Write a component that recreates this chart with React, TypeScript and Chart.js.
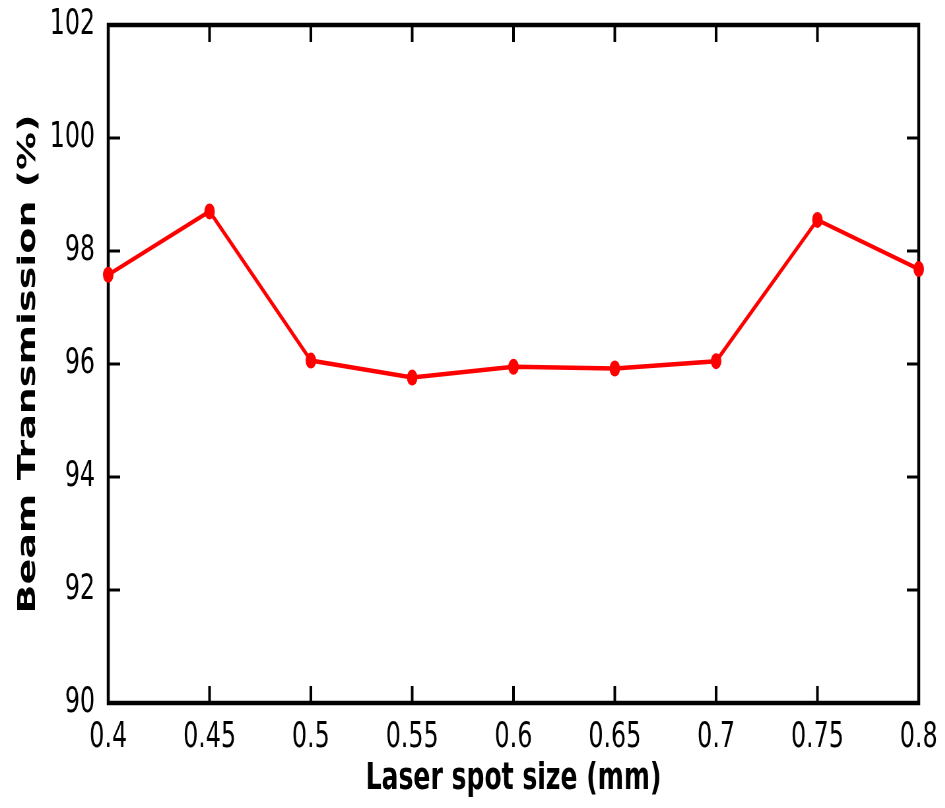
import { Chart, registerables } from 'chart.js';
import { useEffect, useRef } from 'react';

Chart.register(...registerables);

// Laser spot size (mm) and the measured beam transmission (%)
const spotSizes = ['0.4', '0.45', '0.5', '0.55', '0.6', '0.65', '0.7', '0.75', '0.8'];
const transmission = [97.58, 98.7, 96.06, 95.76, 95.95, 95.92, 96.05, 98.55, 97.68];
const yMin = 90;
const yMax = 102;
const yStep = 2;

// the reference is squeezed horizontally, so draw wide and scale the canvas down
const SQUEEZE = 0.66;
const W = Math.round(945 / SQUEEZE);
const H = 808;
const AREA_LEFT = 164;
const AREA_RIGHT = 1392;
const TOP_PAD = 25;
const AREA_BOTTOM = 703;

const frameTicks = {
    id: 'frameTicks',
    beforeDatasetsDraw(chart: any) {
        const { ctx, chartArea: { left, right, top, bottom }, scales } = chart;
        const line = (x1: number, y1: number, x2: number, y2: number) => {
            ctx.beginPath();
            ctx.moveTo(x1, y1);
            ctx.lineTo(x2, y2);
            ctx.stroke();
        };
        ctx.save();
        ctx.strokeStyle = '#000';
        ctx.lineWidth = 4;
        const x = scales.x;
        x.ticks.forEach((_t: any, i: number) => {
            if (i === 0 || i === x.ticks.length - 1) return;
            const px = x.getPixelForTick(i);
            line(px, bottom, px, bottom - 17);
            line(px, top, px, top + 17);
        });
        ctx.lineWidth = 3;
        const y = scales.y;
        y.ticks.forEach((_t: any, i: number) => {
            const py = y.getPixelForTick(i);
            line(left, py, left + 18, py);
            line(right, py, right - 18, py);
        });
        ctx.lineWidth = 4.5;
        ctx.strokeRect(left, top, right - left, bottom - top);
        ctx.restore();
    }
};

function TransmissionChart() {
    const canvasRef = useRef<HTMLCanvasElement>(null);
    const chartRef = useRef<Chart | null>(null);

    useEffect(() => {
        if (!canvasRef.current) return;
        const ctx = canvasRef.current.getContext('2d');
        if (!ctx) return;
        if (chartRef.current) chartRef.current.destroy();

        chartRef.current = new Chart(ctx, {
            type: 'line',
            data: {
                labels: spotSizes,
                datasets: [{
                    data: transmission,
                    borderColor: '#ff0000',
                    backgroundColor: '#ff0000',
                    borderWidth: 4.5,
                    pointRadius: 8,
                    pointHoverRadius: 8,
                    pointBorderWidth: 0,
                    tension: 0,
                    clip: false
                }]
            },
            options: {
                responsive: false,
                animation: false,
                layout: {
                    padding: { left: 0, top: TOP_PAD, right: W - AREA_RIGHT, bottom: 0 }
                },
                plugins: {
                    legend: { display: false },
                    tooltip: { enabled: false }
                },
                scales: {
                    x: {
                        type: 'category',
                        offset: false,
                        grid: { display: false, drawTicks: false },
                        border: { display: false },
                        ticks: {
                            color: '#000',
                            padding: 13,
                            maxRotation: 0,
                            autoSkip: false,
                            font: { family: 'DejaVu Sans', size: 36 }
                        },
                        title: {
                            display: true,
                            text: 'Laser spot size (mm)',
                            color: '#000',
                            padding: { top: 0, bottom: 6 },
                            font: { family: 'DejaVu Sans', size: 38, weight: 'bold' }
                        },
                        afterFit(scale: any) {
                            scale.height = H - AREA_BOTTOM;
                            scale.paddingLeft = 0;
                            scale.paddingRight = 0;
                        }
                    },
                    y: {
                        min: yMin,
                        max: yMax,
                        grid: { display: false, drawTicks: false },
                        border: { display: false },
                        ticks: {
                            stepSize: yStep,
                            color: '#000',
                            padding: 20,
                            font: { family: 'DejaVu Sans', size: 36 }
                        },
                        title: {
                            display: true,
                            text: 'Beam Transmission (%)',
                            color: '#000',
                            padding: { top: 20, bottom: 0 },
                            font: { family: 'DejaVu Sans', size: 38, weight: 'bold' }
                        },
                        afterFit(scale: any) {
                            scale.width = AREA_LEFT;
                            scale.paddingTop = 0;
                            scale.paddingBottom = 0;
                        }
                    }
                }
            },
            plugins: [frameTicks]
        });

        return () => {
            if (chartRef.current) {
                chartRef.current.destroy();
                chartRef.current = null;
            }
        };
    }, []);

    return <canvas ref={canvasRef} width={W} height={H} style={{ display: 'block' }} />;
}

export default function App() {
    return (
        <div style={{ position: 'absolute', left: 0, top: 0, width: 945, height: H, overflow: 'hidden', background: '#fff' }}>
            <div style={{ width: W, height: H, transform: `scaleX(${SQUEEZE})`, transformOrigin: '0 0' }}>
                <TransmissionChart />
            </div>
        </div>
    );
}
